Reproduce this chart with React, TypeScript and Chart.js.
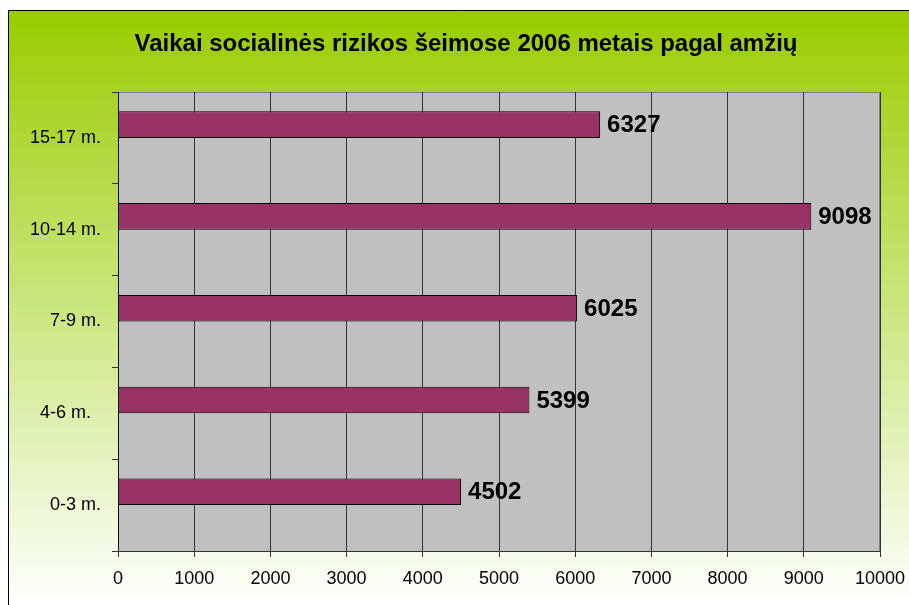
import React, { useEffect, useRef } from "react";
import { Chart, registerables } from "chart.js";

Chart.register(...registerables);

const TITLE = "Vaikai socialinės rizikos šeimose 2006 metais pagal amžių";
const categories = ["15-17 m.", "10-14 m.", "7-9 m.", "4-6 m.  ", "0-3 m."];
const values = [6327, 9098, 6025, 5399, 4502];
const xMin = 0;
const xMax = 10000;
const xStep = 1000;

const FONT = "'Liberation Sans', Arial, sans-serif";

const bgPlugin = {
  id: "bgPlugin",
  beforeDraw(chart: any) {
    const { ctx, width, height, chartArea } = chart;
    ctx.save();
    ctx.fillStyle = "#ffffff";
    ctx.fillRect(0, 0, width, height);
    const g = ctx.createLinearGradient(0, 10, 0, height);
    g.addColorStop(0, "#99CC00");
    g.addColorStop(1, "#ffffff");
    ctx.fillStyle = g;
    ctx.fillRect(8, 10, width - 8, height - 10);
    ctx.strokeStyle = "#000000";
    ctx.lineWidth = 1;
    ctx.beginPath();
    ctx.moveTo(8.5, height);
    ctx.lineTo(8.5, 10.5);
    ctx.lineTo(width, 10.5);
    ctx.stroke();
    // plot area
    const { left, top, right, bottom } = chartArea;
    ctx.fillStyle = "#C0C0C0";
    ctx.fillRect(left, top, right - left, bottom - top);
    ctx.strokeStyle = "#808080";
    ctx.beginPath();
    ctx.moveTo(left, Math.round(top) + 0.5);
    ctx.lineTo(Math.round(right) - 0.5, Math.round(top) + 0.5);
    ctx.lineTo(Math.round(right) - 0.5, bottom);
    ctx.stroke();
    // title
    ctx.fillStyle = "#000000";
    ctx.font = `bold 24px ${FONT}`;
    ctx.textAlign = "center";
    ctx.textBaseline = "middle";
    ctx.fillText(TITLE, 466, 44);
    ctx.restore();
  },
};

const labelPlugin = {
  id: "labelPlugin",
  afterDatasetsDraw(chart: any) {
    const { ctx } = chart;
    const meta = chart.getDatasetMeta(0);
    ctx.save();
    ctx.fillStyle = "#000000";
    ctx.font = `bold 24px ${FONT}`;
    ctx.textAlign = "left";
    ctx.textBaseline = "middle";
    meta.data.forEach((el: any, i: number) => {
      ctx.fillText(String(values[i]), el.x + 7, el.y + 1);
    });
    ctx.restore();
  },
};

export default function App() {
  const ref = useRef<HTMLCanvasElement | null>(null);
  useEffect(() => {
    if (!ref.current) return;
    const chart = new Chart(ref.current, {
      type: "bar",
      data: {
        labels: categories,
        datasets: [
          {
            data: values,
            backgroundColor: "#993366",
            borderColor: "#000000",
            borderWidth: 1,
            borderSkipped: false,
            categoryPercentage: 0.58,
            barPercentage: 1,
          },
          {
            data: categories.map(() => null),
            backgroundColor: "#993366",
            categoryPercentage: 0.58,
            barPercentage: 1,
          },
        ],
      },
      options: {
        indexAxis: "y",
        animation: false,
        responsive: false,
        devicePixelRatio: 1,
        layout: { padding: { left: 8, top: 92, right: 29, bottom: 0 } },
        plugins: {
          legend: { display: false },
          title: { display: false },
          tooltip: { enabled: false },
        },
        scales: {
          x: {
            min: xMin,
            max: xMax,
            afterFit: (s: any) => {
              s.height = 54;
              s.paddingRight = 0;
              s.paddingLeft = 0;
            },
            ticks: {
              stepSize: xStep,
              color: "#000000",
              font: { family: FONT, size: 18 },
              padding: 11,
              maxRotation: 0,
              callback: (v: any) => String(v),
            },
            grid: {
              color: "#333333",
              lineWidth: 1,
              tickLength: 6,
              drawTicks: true,
            },
            border: { color: "#333333", width: 1 },
          },
          y: {
            afterFit: (s: any) => {
              s.width = 110;
              s.paddingTop = 0;
              s.paddingBottom = 0;
            },
            ticks: {
              color: "#000000",
              font: { family: FONT, size: 18 },
              padding: 11,
            },
            grid: {
              drawOnChartArea: false,
              color: "#333333",
              tickLength: 6,
              offset: true,
            },
            border: { color: "#111111", width: 1 },
          },
        },
      },
      plugins: [bgPlugin, labelPlugin],
    });
    return () => chart.destroy();
  }, []);
  return (
    <div style={{ position: "fixed", left: 0, top: 0, width: 909, height: 605 }}>
      <canvas ref={ref} width={909} height={605} style={{ display: "block" }} />
    </div>
  );
}
